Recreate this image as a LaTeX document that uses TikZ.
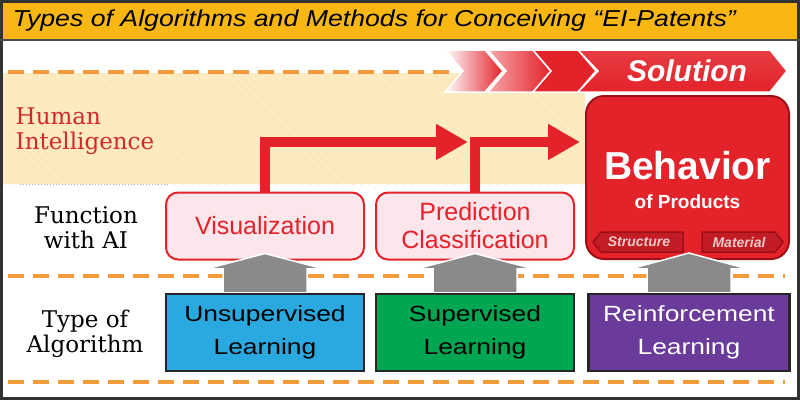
\documentclass[tikz,border=0pt]{standalone}
\usepackage{fontspec}
\setmainfont{Liberation Sans}
\newfontfamily\serifl{DejaVu Serif}
\newfontfamily\widesans{Liberation Sans}[FakeStretch=1.2]
\newfontfamily\titlesans{Liberation Sans}[FakeStretch=1.16]
\usetikzlibrary{calc}
\usetikzlibrary{arrows.meta}
\usetikzlibrary{patterns.meta}
\definecolor{titleyellow}{HTML}{F8B712}
\definecolor{dashorange}{HTML}{F39B3A}
\definecolor{beige}{HTML}{FCE9BC}
\definecolor{aired}{HTML}{E4222A}
\definecolor{darkred}{HTML}{9E1016}
\definecolor{pinkfill}{HTML}{FDE6EB}
\definecolor{unsupblue}{HTML}{29A9E0}
\definecolor{supgreen}{HTML}{00A651}
\definecolor{reinpurple}{HTML}{6A3B9B}
\definecolor{arrowgray}{HTML}{8A8A8A}
\definecolor{labelred}{HTML}{D3282C}
\definecolor{tagtext}{HTML}{EBCACA}
\tikzset{
  every picture/.style={
    thick,
    >={Triangle[width=34pt, length=32pt]}
  },
  rowlabel/.style={
    font=\serifl\fontsize{23}{25}\selectfont, align=center
  },
  funbox/.style={
    draw=aired, fill=pinkfill, line width=2pt, rounded corners=12pt,
    minimum width=198pt, minimum height=67pt, text=aired,
    font=\fontsize{25}{28}\selectfont, align=center
  },
  algbox/.style={
    draw=black!85, line width=2.5pt, minimum width=198pt,
    minimum height=77pt, align=center,
    font=\widesans\fontsize{22}{33}\selectfont
  },
  dashline/.style={
    dashorange, line width=3.5pt, dash pattern=on 16pt off 9pt
  },
  flow/.style={
    aired, line width=10pt, ->
  },
  blockarrow/.style={
    fill=arrowgray, draw=white, line width=1.5pt
  },
  tagshape/.style={
    fill=aired!85!black, draw=darkred, line width=1.5pt
  },
  tagtxt/.style={
    text=tagtext, font=\bfseries\itshape\fontsize{14}{14}\selectfont
  }
}
\begin{document}
\begin{tikzpicture}[x=1pt, y=-1pt]
  \useasboundingbox (0,0) rectangle (800,400);
  \fill[titleyellow] (0,0) rectangle (800,40);
  \fill[beige] (3,73) rectangle (585,184);
  \fill[pattern={Lines[angle=-45, distance=6pt, line width=1.5pt]},
    pattern color=white!18!beige] (3,73) rectangle (585,184);
  \draw[gray!60, dotted, line width=1pt] (20,184) -- (170,184);
  \draw[dashline] (8,72) -- (450,72);
  \draw[dashline] (8,276) -- (785,276);
  \draw[dashline] (8,382) -- (785,382);

  \foreach \x/\w/\c in {445/40/white, 488/45/aired!40!white, 533/45/aired}{
    \draw[draw=white, line width=1.5pt, left color=\c, right color=aired]
      (\x,50) -- ++(\w,0) -- ++(18,21) -- ++(-18,21) -- ++(-\w,0)
      -- ++(18,-21) -- cycle;
  }
  \draw[draw=white, line width=1.5pt, top color=aired!88!white,
    bottom color=aired] (578,50) -- (770,50) -- (787,71) -- (770,92)
    -- (578,92) -- (598,71) -- cycle;
  \node[text=white, font=\bfseries\itshape\fontsize{30}{30}\selectfont]
    (sol) at (687,71) {Solution};

  \node[anchor=west, font=\titlesans\itshape\fontsize{23}{23}\selectfont]
    (title) at (9,21) {Types of Algorithms and Methods for Conceiving “EI-Patents”};
  \draw[black!80, line width=3pt] (1.5,1.5) rectangle (798.5,398.5);
  \draw[black!70, line width=2pt] (0,40) -- (800,40);

  \node[rowlabel, text=labelred, align=left, anchor=west] (human) at (12,131)
    {Human\\Intelligence};
  \node[rowlabel] (func) at (86,228) {Function\\with AI};
  \node[rowlabel] (algtype) at (85,334) {Type of\\Algorithm};

  \node[draw=darkred, fill=aired, line width=2pt, rounded corners=18pt,
    minimum width=203pt, minimum height=163pt] (beh) at (687.5,177.5) {};
  \node[text=white, font=\bfseries\fontsize{39}{39}\selectfont]
    (behtxt) at (687.5,166) {Behavior};
  \node[text=white, font=\bfseries\fontsize{19}{19}\selectfont]
    (prod) at (687.5,202) {of Products};
  \draw[tagshape] (683,232) -- (601,232) -- (593,242) -- (601,252)
    -- (683,252) -- cycle;
  \node[tagtxt] (struct) at (639,242) {Structure};
  \draw[tagshape] (702,232) -- (775,232) -- (783,242) -- (775,252)
    -- (702,252) -- cycle;
  \node[tagtxt] (mat) at (739,242) {Material};

  \node[funbox] (vis) at (265,226) {Visualization};
  \node[funbox] (pred) at (475,226) {Prediction\\Classification};

  \coordinate (tipA) at (468,142);
  \coordinate (tipB) at (580,142);
  \draw[flow] (vis.north) |- (tipA);
  \draw[flow] (pred.north) |- (tipB);

  \node[algbox, fill=unsupblue] (unsup) at (265,332.5) {Unsupervised\\Learning};
  \node[algbox, fill=supgreen] (sup) at (475,332.5) {Supervised\\Learning};
  \node[algbox, fill=reinpurple, text=white, minimum width=201pt]
    (rein) at (689,332.5) {Reinforcement\\Learning};

  \foreach \a/\b in {unsup/vis, sup/pred, rein/beh}{
    \draw[blockarrow] ($(\a.north)+(-42,-1)$) -- ++(0,-23) -- ++(-16,0)
      -- ($(\a.north |- \b.south)+(0,-7)$) -- ($(\a.north)+(58,-24)$)
      -- ++(-16,0) -- ++(0,23);
  }
\end{tikzpicture}
\end{document}
